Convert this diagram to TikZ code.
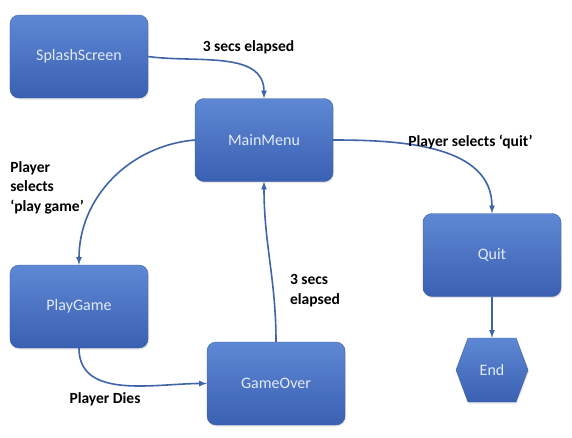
\documentclass[tikz,border=0pt]{standalone}
\usepackage{fontspec}
\setmainfont{Carlito}
\usetikzlibrary{arrows, shapes, shadows}
\definecolor{boxtop}{HTML}{5E88D4}
\definecolor{boxbot}{HTML}{3A60B2}
\definecolor{boxline}{HTML}{3E5FA5}
\definecolor{boxtext}{HTML}{E2EAF8}
\definecolor{arrowcol}{HTML}{3F64A8}

\begin{document}
\begin{tikzpicture}
	\tikzstyle{state}=[rectangle, rounded corners=9pt, minimum width=138pt, minimum height=83pt, draw=boxline, top color=boxtop, bottom color=boxbot, text=boxtext, font=\fontsize{16}{19}\selectfont, drop shadow={opacity=0.2, shadow xshift=1pt, shadow yshift=-1.5pt}, node distance=115pt]
	\tikzstyle{finish}=[signal, signal to=west and east, signal pointer angle=139, minimum width=72pt, minimum height=64pt, inner sep=0pt, draw=boxline, top color=boxtop, bottom color=boxbot, text=boxtext, font=\fontsize{16}{19}\selectfont, drop shadow={opacity=0.2, shadow xshift=1pt, shadow yshift=-1.5pt}, node distance=115pt]
	\tikzstyle{connect}=[-latex, line width=1.6pt, draw=arrowcol]
	\tikzstyle{lab}=[font=\fontsize{15.5}{19.5}\selectfont\bfseries, align=left]
	\useasboundingbox (-79pt,56.5pt) rectangle (493pt,-380.5pt);
	\node[state] (splash) {SplashScreen};
	\node[state] (menu) [right of=splash, xshift=70pt, yshift=-83.5pt] {MainMenu};
	\node[state] (play) [below of=splash, yshift=-135pt] {PlayGame};
	\node[state] (over) [right of=play, xshift=82pt, yshift=-77pt] {GameOver};
	\node[state] (quit) [right of=menu, xshift=113pt, yshift=-115pt] {Quit};
	\node[finish] (end) [below of=quit] {End};
	\path (splash.east) edge [connect, out=-8, in=90] (menu.north)
	(menu.west) edge [connect, out=185, in=90] (play.north)
	(play.south) edge [connect, out=-90, in=180] (over.west)
	(over.north) edge [connect, out=90, in=-90] (menu.south)
	(menu.east) edge [connect, out=0, in=90] (quit.north)
	(quit) edge [connect] (end);
	\node[lab] (lab-splash) at (splash) [xshift=169.5pt, yshift=9.5pt] {3 secs elapsed};
	\node[lab] (lab-quit) at (menu) [xshift=206.5pt, yshift=-1.7pt] {Player selects `quit'};
	\node[lab] (lab-play) at (play) [xshift=-32pt, yshift=119pt] {Player\\selects\\`play game'};
	\node[lab] (lab-over) at (over) [xshift=39pt, yshift=93pt] {3 secs\\elapsed};
	\node[lab] (lab-dies) at (play) [xshift=26pt, yshift=-92.5pt] {Player Dies};
\end{tikzpicture}
\end{document}
